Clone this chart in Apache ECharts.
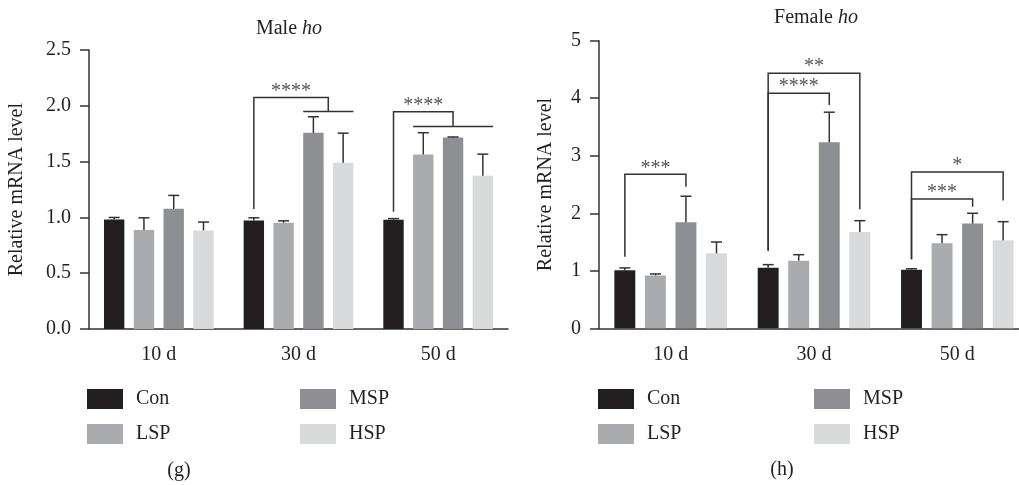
<!DOCTYPE html>
<html>
<head>
<meta charset="utf-8">
<script src="https://cdn.jsdelivr.net/npm/echarts@6/dist/echarts.min.js"></script>
<style>
html,body{margin:0;padding:0;background:#fff;overflow:hidden;}
#chart{width:1040px;height:485px;}
</style>
</head>
<body>
<div id="chart"></div>
<script>
// ---------- data ----------
const categories = ['10 d', '30 d', '50 d'];
const groups = ['Con', 'LSP', 'MSP', 'HSP'];
const colors = ['#231f20', '#aaabae', '#8e8f93', '#d9dadc'];

// Male ho (means, SD)
const maleCon = [0.983, 0.974, 0.980];
const maleLSP = [0.887, 0.953, 1.565];
const maleMSP = [1.078, 1.759, 1.717];
const maleHSP = [0.884, 1.490, 1.374];
const maleConSD = [0.017, 0.023, 0.010];
const maleLSPSD = [0.110, 0.017, 0.195];
const maleMSPSD = [0.120, 0.144, 0.005];
const maleHSPSD = [0.075, 0.266, 0.194];

// Female ho (means, SD)
const femaleCon = [1.010, 1.054, 1.020];
const femaleLSP = [0.920, 1.176, 1.478];
const femaleMSP = [1.843, 3.235, 1.820];
const femaleHSP = [1.304, 1.675, 1.530];
const femaleConSD = [0.040, 0.053, 0.015];
const femaleLSPSD = [0.025, 0.104, 0.150];
const femaleMSPSD = [0.453, 0.522, 0.180];
const femaleHSPSD = [0.196, 0.196, 0.324];

// y-axis ticks
const maleYTicks = [0, 0.5, 1.0, 1.5, 2.0, 2.5];
const femaleYTicks = [0, 1, 2, 3, 4, 5];

// significance brackets (heights in data units)
const maleBrackets = [
  {cat: 1, from: 0, spanFrom: 2, spanTo: 3, top: 2.076, base: 1.075, spanY: 1.951, stars: '****'},
  {cat: 2, from: 0, spanFrom: 1, spanTo: 3, top: 1.947, base: 1.051, spanY: 1.816, stars: '****'}
];
const femaleBrackets = [
  {cat: 0, from: 0, to: 2, top: 2.678, base: 1.246, end: 2.463, stars: '***'},
  {cat: 1, from: 0, to: 3, top: 4.435, base: 1.350, end: 2.070, stars: '**'},
  {cat: 1, from: 0, to: 2, top: 4.087, base: 1.350, end: 3.884, stars: '****'},
  {cat: 2, from: 0, to: 3, top: 2.718, base: 1.200, end: 2.220, stars: '*'},
  {cat: 2, from: 0, to: 2, top: 2.249, base: 1.200, end: 2.115, stars: '***'}
];

// ---------- build ----------
const FONT = '"Liberation Serif", "Times New Roman", serif';
const TXT = '#231f20';
const LINE = '#333333';
const BAR_W = 0.146;   // fraction of band
const BAR_GAP = 0.46;  // fraction of bar width

const maleMeans = [maleCon, maleLSP, maleMSP, maleHSP];
const maleSD = [maleConSD, maleLSPSD, maleMSPSD, maleHSPSD];
const femaleMeans = [femaleCon, femaleLSP, femaleMSP, femaleHSP];
const femaleSD = [femaleConSD, femaleLSPSD, femaleMSPSD, femaleHSPSD];

function barGeom(api, s) {
  const band = api.size([1, 0])[0];
  const bw = band * BAR_W;
  const step = bw * (1 + BAR_GAP);
  return {off: (s - 1.5) * step, bw: bw};
}

function errData(means, sds) {
  const out = [];
  means.forEach((arr, s) => arr.forEach((v, c) => out.push([c, v, v + sds[s][c], s])));
  return out;
}

function errRender(params, api) {
  const c = api.value(0), v = api.value(1), t = api.value(2), s = api.value(3);
  const g = barGeom(api, s);
  const p0 = api.coord([c, v]);
  const p1 = api.coord([c, t]);
  const x = p0[0] + g.off;
  const cap = 5.5;
  return {
    type: 'group',
    children: [
      {type: 'line', shape: {x1: x, y1: p0[1], x2: x, y2: p1[1]}, style: {stroke: LINE, lineWidth: 1.5}},
      {type: 'line', shape: {x1: x - cap, y1: p1[1], x2: x + cap, y2: p1[1]}, style: {stroke: LINE, lineWidth: 1.5}}
    ]
  };
}

function starText(x, y, text) {
  return {type: 'text', style: {text: text, x: x, y: y - 6, align: 'center', verticalAlign: 'middle',
    fontSize: 20, fontFamily: FONT, fill: '#555'}};
}

function maleBracketRender(params, api) {
  const b = maleBrackets[params.dataIndex];
  const c0 = api.coord([b.cat, b.top]);
  const x0 = c0[0] + barGeom(api, b.from).off;
  const gA = barGeom(api, b.spanFrom), gB = barGeom(api, b.spanTo);
  const xa = c0[0] + gA.off - gA.bw / 2;
  const xb = c0[0] + gB.off + gB.bw / 2;
  const xm = (xa + xb) / 2;
  const yTop = c0[1];
  const yBase = api.coord([b.cat, b.base])[1];
  const ySpan = api.coord([b.cat, b.spanY])[1];
  return {
    type: 'group',
    children: [
      {type: 'polyline', shape: {points: [[x0, yBase], [x0, yTop], [xm, yTop], [xm, ySpan]]},
        style: {stroke: LINE, lineWidth: 1.5, fill: 'none'}},
      {type: 'line', shape: {x1: xa, y1: ySpan, x2: xb, y2: ySpan}, style: {stroke: LINE, lineWidth: 1.5}},
      starText((x0 + xm) / 2, yTop, b.stars)
    ]
  };
}

function femaleBracketRender(params, api) {
  const b = femaleBrackets[params.dataIndex];
  const c0 = api.coord([b.cat, b.top]);
  const x0 = c0[0] + barGeom(api, b.from).off;
  const x1 = c0[0] + barGeom(api, b.to).off;
  const yTop = c0[1];
  const yBase = api.coord([b.cat, b.base])[1];
  const yEnd = api.coord([b.cat, b.end])[1];
  return {
    type: 'group',
    children: [
      {type: 'polyline', shape: {points: [[x0, yBase], [x0, yTop], [x1, yTop], [x1, yEnd]]},
        style: {stroke: LINE, lineWidth: 1.5, fill: 'none'}},
      starText((x0 + x1) / 2, yTop, b.stars)
    ]
  };
}

function xAxisOpt(gi) {
  return {
    type: 'category', gridIndex: gi, data: categories,
    axisLine: {lineStyle: {color: LINE, width: 1.5}},
    axisTick: {alignWithLabel: true, length: 10, lineStyle: {color: LINE, width: 1.5}},
    axisLabel: {fontSize: 20, fontFamily: FONT, color: TXT, margin: 16}
  };
}
function yAxisOpt(gi, ticks, digits, gap) {
  return {
    type: 'value', gridIndex: gi, min: ticks[0], max: ticks[ticks.length - 1],
    interval: ticks[1] - ticks[0],
    name: 'Relative mRNA level', nameLocation: 'middle', nameGap: gap,
    nameTextStyle: {fontSize: 20, fontFamily: FONT, color: TXT},
    axisLine: {show: true, lineStyle: {color: LINE, width: 1.5}},
    axisTick: {show: true, length: 9, lineStyle: {color: LINE, width: 1.5}},
    axisLabel: {fontSize: 20, fontFamily: FONT, color: TXT, margin: 18,
      formatter: v => v.toFixed(digits)},
    splitLine: {show: false}
  };
}

const series = [];
[[maleMeans, 0], [femaleMeans, 1]].forEach(([means, gi]) => {
  means.forEach((arr, s) => {
    series.push({
      type: 'bar', name: groups[s], xAxisIndex: gi, yAxisIndex: gi, data: arr,
      barWidth: (BAR_W * 100) + '%', barGap: (BAR_GAP * 100) + '%',
      itemStyle: {color: colors[s]}, emphasis: {disabled: true}, silent: true
    });
  });
});
series.push({type: 'custom', xAxisIndex: 0, yAxisIndex: 0, data: errData(maleMeans, maleSD),
  renderItem: errRender, z: 5, silent: true, clip: false});
series.push({type: 'custom', xAxisIndex: 1, yAxisIndex: 1, data: errData(femaleMeans, femaleSD),
  renderItem: errRender, z: 5, silent: true, clip: false});
series.push({type: 'custom', xAxisIndex: 0, yAxisIndex: 0, data: maleBrackets.map(b => [b.cat, b.top]),
  renderItem: maleBracketRender, z: 5, silent: true, clip: false});
series.push({type: 'custom', xAxisIndex: 1, yAxisIndex: 1, data: femaleBrackets.map(b => [b.cat, b.top]),
  renderItem: femaleBracketRender, z: 5, silent: true, clip: false});

function legendOpt(name, left, top) {
  return {
    data: [name], left: left, top: top, padding: 0, itemWidth: 36, itemHeight: 20,
    icon: 'rect', selectedMode: false,
    textStyle: {fontSize: 20, fontFamily: FONT, color: TXT, padding: [0, 0, 0, 8]}
  };
}

const titleStyle = {fontSize: 20, fontFamily: FONT, color: TXT, fontWeight: 'normal',
  rich: {i: {fontSize: 20, fontFamily: FONT, fontStyle: 'italic', color: TXT}}};

const option = {
  animation: false,
  backgroundColor: '#fff',
  title: [
    {text: 'Male {i|ho}', left: 289, top: 19, textAlign: 'center', padding: 0, textStyle: titleStyle},
    {text: 'Female {i|ho}', left: 816, top: 8, textAlign: 'center', padding: 0, textStyle: titleStyle},
    {text: '(g)', left: 179, top: 461, textAlign: 'center', padding: 0, textStyle: titleStyle},
    {text: '(h)', left: 782, top: 460, textAlign: 'center', padding: 0, textStyle: titleStyle}
  ],
  legend: [
    legendOpt('Con', 87, 389), legendOpt('LSP', 87, 424),
    legendOpt('MSP', 300, 389), legendOpt('HSP', 300, 424),
    legendOpt('Con', 598, 389), legendOpt('LSP', 598, 424),
    legendOpt('MSP', 814, 389), legendOpt('HSP', 814, 424)
  ],
  grid: [
    {left: 89, top: 50.2, right: 532, bottom: 156, containLabel: false},
    {left: 599, top: 40.7, right: 11, bottom: 156.7, containLabel: false}
  ],
  xAxis: [xAxisOpt(0), xAxisOpt(1)],
  yAxis: [yAxisOpt(0, maleYTicks, 1, 62), yAxisOpt(1, femaleYTicks, 0, 43)],
  series: series
};

const chart = echarts.init(document.getElementById('chart'), null, {renderer: 'canvas'});
chart.setOption(option);
</script>
</body>
</html>
